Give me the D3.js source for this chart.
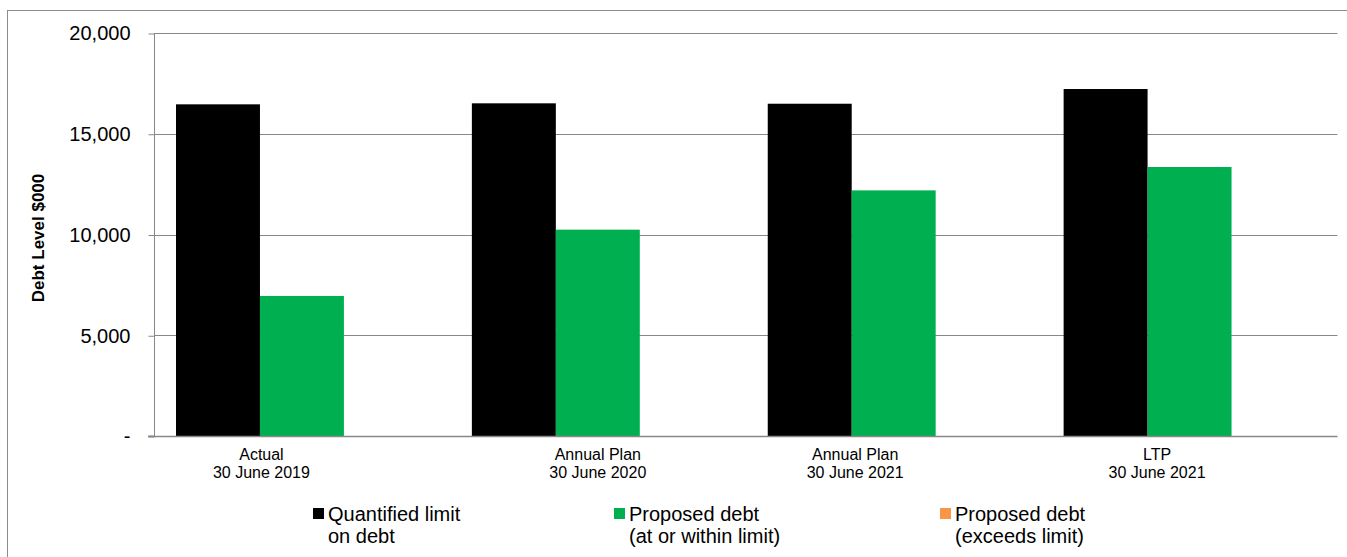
<!DOCTYPE html>
<html>
<head>
<meta charset="utf-8">
<script src="https://cdn.jsdelivr.net/npm/d3@7"></script>
<style>
  html, body { margin: 0; padding: 0; background: #fff; }
  svg { display: block; font-family: "Liberation Sans", Arial, sans-serif; }
</style>
</head>
<body>
<svg id="chart" width="1347" height="557"></svg>
<script>
// ---- data ----
const categories = ["Actual|30 June 2019", "Annual Plan|30 June 2020", "Annual Plan|30 June 2021", "LTP|30 June 2021"];
const seriesNames = ["Quantified limit|on debt", "Proposed debt|(at or within limit)", "Proposed debt|(exceeds limit)"];
const quantifiedLimit = [16460, 16510, 16490, 17220];
const proposedWithin = [6950, 10240, 12190, 13350];
const proposedExceeds = [0, 0, 0, 0];
const yTicks = [0, 5000, 10000, 15000, 20000];
const seriesColors = ["#000000", "#00B050", "#F79646"];

// ---- layout constants ----
const plot = { left: 154, right: 1337.5, top: 33, bottom: 436 };
const labelShift = [-40.5, 0, -38.5, -32.5];
const legendX = [313, 614, 940];

const svg = d3.select("#chart");
const gridColor = "#888888";

// outer border (extends beyond right/bottom edges)
svg.append("rect")
  .attr("x", 7.5).attr("y", 10.5)
  .attr("width", 1400).attr("height", 600)
  .attr("fill", "none").attr("stroke", "#8c8c8c").attr("stroke-width", 1);

const y = d3.scaleLinear().domain([0, 20000]).range([plot.bottom, plot.top]);
const x = d3.scaleBand().domain(categories).range([plot.left, plot.right]).paddingInner(0).paddingOuter(0);
const xs = d3.scaleBand().domain(seriesNames).range([0, x.bandwidth()]).paddingInner(0).paddingOuter(0.262);

// gridlines
svg.append("g").selectAll("line").data(yTicks.filter(d => d > 0)).join("line")
  .attr("x1", plot.left).attr("x2", plot.right)
  .attr("y1", d => Math.round(y(d)) + 0.5).attr("y2", d => Math.round(y(d)) + 0.5)
  .attr("stroke", gridColor).attr("stroke-width", 1);

// bars
const seriesData = [quantifiedLimit, proposedWithin, proposedExceeds];
seriesData.forEach((vals, si) => {
  svg.append("g").selectAll("rect").data(vals).join("rect")
    .attr("x", (d, i) => x(categories[i]) + xs(seriesNames[si]))
    .attr("width", xs.bandwidth())
    .attr("y", d => y(d))
    .attr("height", d => y(0) - y(d))
    .attr("fill", seriesColors[si]);
});

// y axis
const yAxis = d3.axisLeft(y).tickValues(yTicks).tickSize(6).tickPadding(18)
  .tickFormat(d => d === 0 ? "-" : d3.format(",")(d));
const gy = svg.append("g").attr("transform", `translate(${plot.left + 0.5},0.5)`).call(yAxis);
gy.select(".domain").attr("stroke", gridColor).attr("d", `M-6,${plot.bottom - 0.5}H0V${plot.top - 0.5}`);
gy.selectAll(".tick line").attr("stroke", gridColor);
gy.selectAll(".tick text").attr("font-size", "20px").attr("fill", "#000")
  .attr("font-family", "Liberation Sans, Arial, sans-serif");

// x axis baseline
svg.append("line")
  .attr("x1", plot.left - 6).attr("x2", plot.right)
  .attr("y1", Math.round(y(0)) + 0.5).attr("y2", Math.round(y(0)) + 0.5)
  .attr("stroke", gridColor).attr("stroke-width", 1.5);

// category labels
const catG = svg.append("g");
categories.forEach((c, i) => {
  const cx = x(c) + x.bandwidth() / 2 + labelShift[i];
  const t = catG.append("text").attr("text-anchor", "middle").attr("font-size", "16px").attr("fill", "#000");
  c.split("|").forEach((line, li) => {
    t.append("tspan").attr("x", cx).attr("y", 460 + li * 18).text(line);
  });
});

// y axis title
svg.append("text")
  .attr("transform", "translate(44,238) rotate(-90)")
  .attr("text-anchor", "middle")
  .attr("font-size", "17px").attr("font-weight", "bold").attr("fill", "#000")
  .text("Debt Level $000");

// legend
seriesNames.forEach((s, i) => {
  const g = svg.append("g");
  g.append("rect").attr("x", legendX[i]).attr("y", 508).attr("width", 11).attr("height", 11).attr("fill", seriesColors[i]);
  const t = g.append("text").attr("font-size", "20px").attr("fill", "#000");
  s.split("|").forEach((line, li) => {
    t.append("tspan").attr("x", legendX[i] + 15).attr("y", 521 + li * 22).text(line);
  });
});
</script>
</body>
</html>
